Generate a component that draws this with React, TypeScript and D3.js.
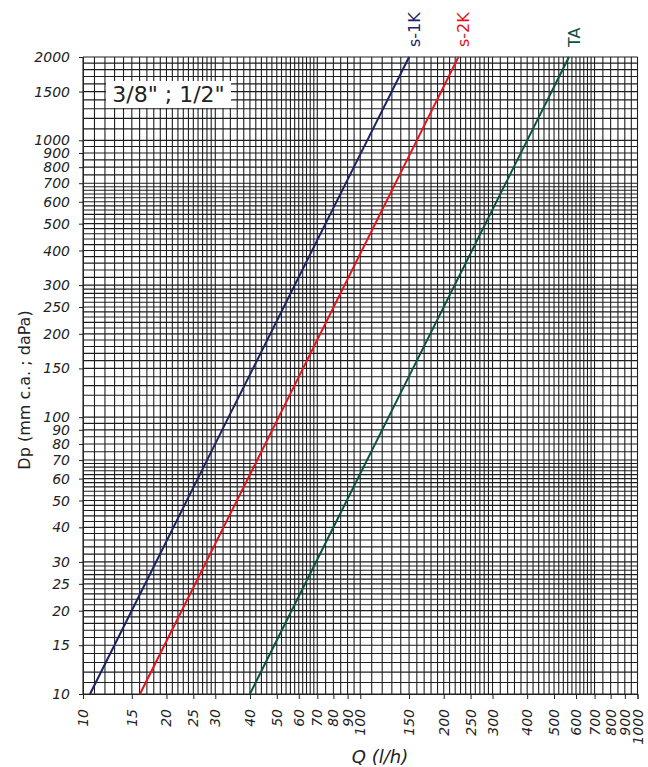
import React, { useEffect, useRef } from "react";
import * as d3 from "d3";

// tick labels
const xTicks = [10, 15, 20, 25, 30, 40, 50, 60, 70, 80, 90, 100, 150, 200, 250, 300, 400, 500, 600, 700, 800, 900, 1000];
const yTicks = [10, 15, 20, 25, 30, 40, 50, 60, 70, 80, 90, 100, 150, 200, 250, 300, 400, 500, 600, 700, 800, 900, 1000, 1500, 2000];

// curves (Q in l/h, Dp in mm c.a.)
const seriesNames = ["s-1K", "s-2K", "TA"];
const seriesColors = ["#1b2466", "#e3141b", "#0b5345"];
const s1kQ = [10.6, 33.5, 106, 150];
const s1kDp = [10, 100, 1000, 2000];
const s2kQ = [16.05, 50.8, 160, 226];
const s2kDp = [10, 100, 1000, 2000];
const taQ = [40, 126.5, 400, 566];
const taDp = [10, 100, 1000, 2000];

const title = '3/8" ; 1/2"';

const App = () => {
  const ref = useRef<SVGSVGElement | null>(null);

  useEffect(() => {
    const left = 83,
      right = 637.5,
      top = 57,
      bottom = 694;

    const svg = d3.select(ref.current);
    svg.selectAll("*").remove();

    const x = d3.scaleLog().domain([10, 1000]).range([left, right]);
    const y = d3.scaleLog().domain([10, 2000]).range([bottom, top]);

    // grid lines
    const xGrid = [
      ...d3.range(10, 30, 1),
      ...d3.range(30, 70, 2),
      ...d3.range(70, 100, 5),
      ...d3.range(100, 300, 10),
      ...d3.range(300, 700, 20),
      ...d3.range(700, 1001, 50),
    ];
    const yGrid = [
      ...d3.range(10, 30, 1),
      ...d3.range(30, 70, 2),
      ...d3.range(70, 100, 5),
      ...d3.range(100, 300, 10),
      ...d3.range(300, 700, 20),
      ...d3.range(700, 1000, 50),
      ...d3.range(1000, 2001, 100),
    ];

    const grid = svg.append("g").attr("stroke", "#1e1e1e").attr("stroke-width", 1.1);
    grid
      .selectAll("line.v")
      .data(xGrid)
      .join("line")
      .attr("class", "v")
      .attr("x1", (d) => x(d))
      .attr("x2", (d) => x(d))
      .attr("y1", top)
      .attr("y2", bottom);
    grid
      .selectAll("line.h")
      .data(yGrid)
      .join("line")
      .attr("class", "h")
      .attr("x1", left)
      .attr("x2", right)
      .attr("y1", (d) => y(d))
      .attr("y2", (d) => y(d));

    // axes with small outside ticks
    svg
      .append("g")
      .attr("transform", `translate(0,${bottom})`)
      .call(d3.axisBottom(x).tickValues(xTicks).tickSize(5).tickFormat(() => ""))
      .call((g) => g.select(".domain").attr("stroke", "#222"))
      .call((g) => g.selectAll(".tick line").attr("stroke", "#222"));
    svg
      .append("g")
      .attr("transform", `translate(${left},0)`)
      .call(d3.axisLeft(y).tickValues(yTicks).tickSize(4).tickFormat(() => ""))
      .call((g) => g.select(".domain").attr("stroke", "#222"))
      .call((g) => g.selectAll(".tick line").attr("stroke", "#222"));

    const font = "DejaVu Sans, Verdana, sans-serif";

    // y tick labels
    svg
      .append("g")
      .selectAll("text")
      .data(yTicks)
      .join("text")
      .attr("x", 70)
      .attr("y", (d) => y(d))
      .attr("dy", "0.36em")
      .attr("text-anchor", "end")
      .attr("font-family", font)
      .attr("font-style", "oblique")
      .attr("font-size", 14)
      .attr("fill", "#222")
      .text((d) => d);

    // x tick labels (rotated)
    svg
      .append("g")
      .selectAll("text")
      .data(xTicks)
      .join("text")
      .attr("transform", (d) => `translate(${x(d) + 5},709) rotate(-90)`)
      .attr("text-anchor", "end")
      .attr("font-family", font)
      .attr("font-style", "oblique")
      .attr("font-size", 14)
      .attr("fill", "#222")
      .text((d) => d);

    // axis titles
    svg
      .append("text")
      .attr("x", 380)
      .attr("y", 763)
      .attr("text-anchor", "middle")
      .attr("font-family", font)
      .attr("font-style", "oblique")
      .attr("font-size", 18)
      .attr("fill", "#222")
      .text("Q (l/h)");
    svg
      .append("text")
      .attr("transform", "translate(30,390) rotate(-90)")
      .attr("text-anchor", "middle")
      .attr("font-family", font)
      .attr("font-size", 16)
      .attr("fill", "#222")
      .text("Dp (mm c.a. ; daPa)");

    // title box
    svg
      .append("rect")
      .attr("x", 106)
      .attr("y", 81)
      .attr("width", 125)
      .attr("height", 27)
      .attr("fill", "#fff");
    svg
      .append("text")
      .attr("x", 168.5)
      .attr("y", 102)
      .attr("text-anchor", "middle")
      .attr("font-family", font)
      .attr("font-size", 22)
      .attr("fill", "#222")
      .text(title);

    // curves
    const series = [
      { q: s1kQ, dp: s1kDp },
      { q: s2kQ, dp: s2kDp },
      { q: taQ, dp: taDp },
    ];
    const line = d3
      .line<[number, number]>()
      .x((d) => x(d[0]))
      .y((d) => y(d[1]));

    series.forEach((s, i) => {
      const pts = s.q.map((q, j) => [q, s.dp[j]] as [number, number]);
      svg
        .append("path")
        .datum(pts)
        .attr("fill", "none")
        .attr("stroke", seriesColors[i])
        .attr("stroke-width", 2)
        .attr("d", line);
      const last = pts[pts.length - 1];
      svg
        .append("text")
        .attr("transform", `translate(${x(last[0]) + 11},47) rotate(-90)`)
        .attr("font-family", font)
        .attr("font-size", 16)
        .attr("fill", seriesColors[i])
        .text(seriesNames[i]);
    });
  }, []);

  return (
    <svg
      ref={ref}
      width={648}
      height={767}
      style={{ position: "absolute", left: 0, top: 0, background: "#fff" }}
    />
  );
};

export default App;
